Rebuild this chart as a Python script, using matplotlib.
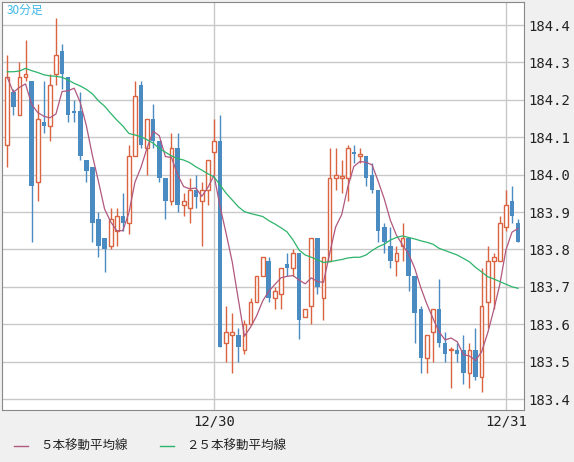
import numpy as np
import pandas as pd
import matplotlib.pyplot as plt

# 30-minute candles (open, high, low, close)
opens = [184.08, 184.22, 184.16, 184.26, 184.25, 183.98, 184.14, 184.13, 184.27, 184.33,
         184.26, 184.17, 184.17, 184.04, 184.02, 183.88, 183.83, 183.81, 183.85, 183.89,
         183.87, 184.05, 184.24, 184.07, 184.15, 184.09, 183.99, 183.93, 184.07, 183.92,
         183.91, 183.96, 183.93, 183.96, 184.06, 184.09, 183.55, 183.57, 183.57, 183.53,
         183.60, 183.66, 183.73, 183.77, 183.67, 183.68, 183.76, 183.75, 183.79, 183.62,
         183.65, 183.83, 183.67, 183.77, 183.99, 183.99, 183.99, 184.06, 184.05, 184.05,
         184.00, 183.96, 183.86, 183.81, 183.77, 183.81, 183.83, 183.73, 183.64, 183.51,
         183.58, 183.64, 183.55, 183.53, 183.53, 183.53, 183.47, 183.53, 183.46, 183.66,
         183.77, 183.77, 183.86, 183.93, 183.87]
highs = [184.32, 184.23, 184.30, 184.36, 184.25, 184.19, 184.25, 184.27, 184.42, 184.35,
         184.26, 184.20, 184.22, 184.04, 184.02, 183.90, 183.83, 183.91, 183.91, 183.95,
         184.08, 184.25, 184.25, 184.15, 184.19, 184.09, 183.99, 184.11, 184.11, 183.95,
         183.99, 184.00, 183.98, 184.04, 184.15, 184.16, 183.65, 183.63, 183.59, 183.61,
         183.67, 183.73, 183.78, 183.78, 183.70, 183.75, 183.79, 183.80, 183.79, 183.64,
         183.83, 183.83, 183.78, 184.07, 184.07, 184.04, 184.08, 184.08, 184.07, 184.05,
         184.03, 183.96, 183.87, 183.86, 183.81, 183.87, 183.83, 183.73, 183.65, 183.57,
         183.64, 183.72, 183.58, 183.54, 183.55, 183.57, 183.55, 183.59, 183.75, 183.81,
         183.79, 183.89, 183.96, 183.97, 183.88]
lows = [184.02, 184.16, 184.16, 184.25, 183.82, 183.93, 184.11, 184.09, 184.24, 184.23,
        184.14, 184.14, 184.04, 183.98, 183.82, 183.78, 183.74, 183.80, 183.81, 183.85,
        183.84, 184.05, 184.07, 184.00, 184.07, 183.98, 183.88, 183.92, 183.90, 183.89,
        183.87, 183.91, 183.81, 183.92, 184.00, 183.54, 183.50, 183.47, 183.50, 183.52,
        183.60, 183.66, 183.73, 183.66, 183.64, 183.64, 183.73, 183.73, 183.56, 183.62,
        183.60, 183.68, 183.61, 183.77, 183.96, 183.95, 183.93, 184.03, 184.03, 183.97,
        183.95, 183.82, 183.79, 183.75, 183.73, 183.77, 183.69, 183.55, 183.47, 183.47,
        183.50, 183.54, 183.50, 183.43, 183.50, 183.44, 183.43, 183.45, 183.42, 183.59,
        183.64, 183.77, 183.85, 183.87, 183.82]
closes = [184.26, 184.18, 184.26, 184.27, 183.97, 184.15, 184.13, 184.24, 184.32, 184.27,
          184.16, 184.165, 184.05, 184.01, 183.87, 183.81, 183.80, 183.88, 183.89, 183.87,
          184.05, 184.21, 184.08, 184.15, 184.09, 183.99, 183.93, 184.07, 183.92, 183.93,
          183.96, 183.94, 183.96, 184.04, 184.09, 183.54, 183.58, 183.58, 183.54, 183.60,
          183.66, 183.73, 183.78, 183.67, 183.69, 183.75, 183.75, 183.79, 183.61, 183.64,
          183.83, 183.70, 183.78, 183.99, 184.00, 183.995, 184.07, 184.055, 184.055, 183.99,
          183.96, 183.85, 183.82, 183.77, 183.79, 183.83, 183.73, 183.63, 183.51, 183.57,
          183.64, 183.55, 183.52, 183.535, 183.52, 183.47, 183.53, 183.46, 183.65, 183.77,
          183.78, 183.87, 183.92, 183.89, 183.82]
ma25 = [184.275, 184.275, 184.277, 184.284, 184.278, 184.273, 184.267, 184.264, 184.263, 184.260,
        184.253, 184.244, 184.237, 184.228, 184.216, 184.197, 184.183, 184.164, 184.146, 184.130,
        184.110, 184.106, 184.101, 184.093, 184.084, 184.070, 184.060, 184.050, 184.043, 184.039,
        184.032, 184.021, 184.012, 184.002, 183.994, 183.972, 183.950, 183.932, 183.914, 183.901,
        183.896, 183.892, 183.888, 183.877, 183.868, 183.858, 183.847, 183.825, 183.798, 183.785,
        183.779, 183.772, 183.765, 183.767, 183.770, 183.773, 183.777, 183.779, 183.779, 183.785,
        183.797, 183.807, 183.814, 183.825, 183.832, 183.836, 183.832, 183.828, 183.823, 183.819,
        183.814, 183.803, 183.797, 183.791, 183.785, 183.776, 183.767, 183.752, 183.740, 183.727,
        183.721, 183.714, 183.707, 183.700, 183.696]
date_ticks = [34, 82]
date_labels = ['12/30', '12/31']
yticks = [183.4, 183.5, 183.6, 183.7, 183.8, 183.9, 184.0, 184.1, 184.2, 184.3, 184.4]

up_col = '#d9643f'
down_col = '#4a8bc2'
ma5_col = '#b0587f'
ma25_col = '#2cb46a'

df = pd.DataFrame({'o': opens, 'h': highs, 'l': lows, 'c': closes})
ma5 = df['c'].rolling(5, min_periods=1).mean()
x = np.arange(len(df))

fig = plt.figure(figsize=(5.74, 4.62), dpi=100, facecolor='#f0f0f0')
ax = fig.add_axes([2/574, 52/462, 522/574, 408/462])
ax.set_facecolor('white')

up = df['c'] >= df['o']
w = 0.62
for i in x:
    o, h, l, c = df.loc[i, ['o', 'h', 'l', 'c']]
    col = up_col if up[i] else down_col
    ax.vlines(i, l, h, color=col, lw=1, zorder=2)
    bot, top = min(o, c), max(o, c)
    hgt = max(top - bot, 0.003)
    if up[i]:
        ax.bar(i, hgt, bottom=bot, width=w, facecolor='white', edgecolor=col, lw=1, zorder=3)
    else:
        ax.bar(i, hgt, bottom=bot, width=w + 0.12, color=col, lw=0, zorder=3)

ax.plot(x, ma5, color=ma5_col, lw=0.9, zorder=4)
ax.plot(x, ma25, color=ma25_col, lw=0.9, zorder=4)

ax.set_xlim(-0.87, 84.98)
ax.set_ylim(183.3706, 184.4615)
ax.set_yticks(yticks)
ax.set_yticklabels(['%.1f' % v for v in yticks], family='DejaVu Sans Mono')
ax.yaxis.tick_right()
ax.set_xticks(date_ticks)
ax.set_xticklabels(date_labels, family='DejaVu Sans Mono')
ax.tick_params(length=0, labelsize=10, pad=3, colors='#222222')
ax.grid(True, color='#c8c8c8', lw=1)
ax.set_axisbelow(True)
for s in ax.spines.values():
    s.set_color('#888888')

ax.text(0.008, 0.995, '30分足', transform=ax.transAxes, ha='left', va='top',
        color='#3fb6e8', fontsize=8.5, family=['Noto Sans CJK JP', 'DejaVu Sans'])

fig.lines.append(plt.Line2D([14/574, 28/574], [16/462, 16/462], color=ma5_col, lw=1, transform=fig.transFigure))
fig.text(40/574, 16/462, '５本移動平均線', va='center', fontsize=9, color='#222222',
         family=['Noto Sans CJK JP', 'DejaVu Sans'])
fig.lines.append(plt.Line2D([160/574, 174/574], [16/462, 16/462], color=ma25_col, lw=1, transform=fig.transFigure))
fig.text(186/574, 16/462, '２５本移動平均線', va='center', fontsize=9, color='#222222',
         family=['Noto Sans CJK JP', 'DejaVu Sans'])

fig.savefig('out.png', dpi=100, facecolor=fig.get_facecolor())
